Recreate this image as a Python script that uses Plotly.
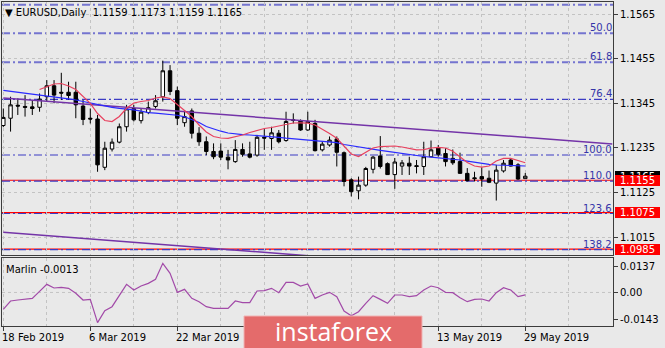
import plotly.graph_objects as go
import pandas as pd

# ---------------- data ----------------
bar_dates = pd.bdate_range("2019-02-18", "2019-05-29")  # 73 daily bars

opens = [1.1290, 1.1308, 1.1340, 1.1337, 1.1336, 1.1335, 1.1361, 1.1388, 1.1372, 1.1372,
         1.1372, 1.1338, 1.1308, 1.1306, 1.1187, 1.1232, 1.1249, 1.1287, 1.1332, 1.1302,
         1.1322, 1.1337, 1.1361, 1.1425, 1.1376, 1.1297, 1.1326, 1.1271, 1.1250, 1.1226,
         1.1227, 1.1212, 1.1201, 1.1231, 1.1220, 1.1217, 1.1261, 1.1258, 1.1271, 1.1253,
         1.1304, 1.1301, 1.1279, 1.1295, 1.1230, 1.1242, 1.1257, 1.1223, 1.1156, 1.1129,
         1.1143, 1.1182, 1.1215, 1.1196, 1.1169, 1.1190, 1.1197, 1.1191, 1.1189, 1.1213,
         1.1235, 1.1221, 1.1209, 1.1201, 1.1172, 1.1161, 1.1164, 1.1160, 1.1148, 1.1178,
         1.1205, 1.1193, 1.1159]
highs = [1.1332, 1.1361, 1.1357, 1.1365, 1.1353, 1.1369, 1.1402, 1.1402, 1.1420, 1.1398,
         1.1398, 1.1353, 1.1332, 1.1316, 1.1250, 1.1258, 1.1295, 1.1341, 1.1341, 1.1332,
         1.1349, 1.1365, 1.1450, 1.1439, 1.1386, 1.1328, 1.1332, 1.1286, 1.1263, 1.1246,
         1.1246, 1.1230, 1.1254, 1.1246, 1.1250, 1.1267, 1.1281, 1.1287, 1.1279, 1.1324,
         1.1320, 1.1305, 1.1324, 1.1304, 1.1250, 1.1263, 1.1263, 1.1226, 1.1160, 1.1164,
         1.1188, 1.1215, 1.1264, 1.1199, 1.1210, 1.1205, 1.1213, 1.1205, 1.1250, 1.1253,
         1.1242, 1.1234, 1.1231, 1.1223, 1.1185, 1.1176, 1.1187, 1.1179, 1.1193, 1.1205,
         1.1209, 1.1197, 1.1173]
lows = [1.1286, 1.1275, 1.1316, 1.1312, 1.1316, 1.1324, 1.1349, 1.1345, 1.1353, 1.1353,
        1.1308, 1.1291, 1.1295, 1.1176, 1.1180, 1.1226, 1.1246, 1.1275, 1.1300, 1.1295,
        1.1318, 1.1332, 1.1349, 1.1365, 1.1291, 1.1287, 1.1258, 1.1240, 1.1217, 1.1207,
        1.1205, 1.1182, 1.1198, 1.1213, 1.1209, 1.1213, 1.1230, 1.1230, 1.1246, 1.1250,
        1.1295, 1.1277, 1.1277, 1.1226, 1.1226, 1.1238, 1.1189, 1.1140, 1.1115, 1.1108,
        1.1139, 1.1172, 1.1184, 1.1168, 1.1134, 1.1168, 1.1168, 1.1172, 1.1168, 1.1212,
        1.1213, 1.1189, 1.1193, 1.1171, 1.1152, 1.1152, 1.1139, 1.1148, 1.1105, 1.1174,
        1.1189, 1.1156, 1.1159]
closes = [1.1310, 1.1341, 1.1338, 1.1335, 1.1332, 1.1355, 1.1388, 1.1365, 1.1370, 1.1364,
          1.1341, 1.1305, 1.1306, 1.1193, 1.1234, 1.1249, 1.1287, 1.1331, 1.1304, 1.1323,
          1.1334, 1.1351, 1.1425, 1.1374, 1.1308, 1.1312, 1.1271, 1.1250, 1.1226, 1.1213,
          1.1212, 1.1205, 1.1231, 1.1219, 1.1212, 1.1261, 1.1259, 1.1272, 1.1250, 1.1300,
          1.1303, 1.1279, 1.1300, 1.1228, 1.1244, 1.1254, 1.1224, 1.1152, 1.1127, 1.1143,
          1.1184, 1.1212, 1.1189, 1.1169, 1.1200, 1.1198, 1.1190, 1.1189, 1.1213, 1.1230,
          1.1219, 1.1201, 1.1198, 1.1172, 1.1154, 1.1159, 1.1158, 1.1150, 1.1180, 1.1197,
          1.1190, 1.1158, 1.1165]

ma_red_first_bar = 5
ma_red = [1.13788, 1.13862, 1.13924, 1.13936, 1.13874, 1.13788, 1.13628, 1.13448, 1.13196, 1.13024,
          1.12999, 1.13122, 1.13325, 1.13455, 1.13492, 1.13517, 1.13578, 1.13608, 1.13566, 1.13418,
          1.13270, 1.13122, 1.12913, 1.12740, 1.12629, 1.12592, 1.12585, 1.12617, 1.12666, 1.12728,
          1.12777, 1.12826, 1.12851, 1.12888, 1.12937, 1.12962, 1.12967, 1.12957, 1.12913, 1.12814,
          1.12703, 1.12585, 1.12382, 1.12197, 1.12136, 1.12247, 1.12346, 1.12382, 1.12387, 1.12395,
          1.12370, 1.12338, 1.12301, 1.12308, 1.12346, 1.12363, 1.12346, 1.12264, 1.12123, 1.11988,
          1.11901, 1.11872, 1.11901, 1.12025, 1.12091, 1.12091, 1.12037, 1.11983]

ma_blue = [1.13768, 1.13746, 1.13724, 1.13699, 1.13675, 1.13652, 1.13633, 1.13613, 1.13591, 1.13559,
           1.13529, 1.13492, 1.13455, 1.13411, 1.13371, 1.13347, 1.13324, 1.13312, 1.13288, 1.13253,
           1.13218, 1.13204, 1.13186, 1.13172, 1.13154, 1.13115, 1.13048, 1.12974, 1.12875, 1.12814,
           1.12760, 1.12715, 1.12690, 1.12676, 1.12666, 1.12656, 1.12646, 1.12629, 1.12609, 1.12587,
           1.12572, 1.12557, 1.12543, 1.12528, 1.12513, 1.12501, 1.12476, 1.12432, 1.12400, 1.12370,
           1.12343, 1.12308, 1.12289, 1.12262, 1.12234, 1.12207, 1.12178, 1.12151, 1.12136, 1.12121,
           1.12106, 1.12087, 1.12067, 1.12050, 1.12020, 1.11988, 1.11956, 1.11941, 1.11926, 1.11917,
           1.11909, 1.11902, 1.11902]

marlin = [-0.0090, -0.00456, -0.00403, -0.00350, -0.00314, 0.00058, 0.00431, 0.00236, 0.00271, 0.00218,
          -0.00048, -0.00403, -0.00368, -0.01609, -0.00971, -0.00758, -0.00137, 0.00431, 0.00129, 0.00342,
          0.00484, 0.00697, 0.01548, 0.01016, 0.00005, 0.00165, -0.00314, -0.00492, -0.00758, -0.00847,
          -0.00847, -0.00847, -0.00456, -0.00545, -0.00545, 0.00076, 0.00094, 0.00218, -0.00013, 0.00537,
          0.00537, 0.00342, 0.00449, -0.00314, -0.00137, 0.00005, -0.00226, -0.00988, -0.01237, -0.01024,
          -0.00580, -0.00172, -0.00368, -0.00580, -0.00137, -0.00137, -0.00226, -0.00172, 0.00129, 0.00342,
          0.00253, 0.00005, -0.00013, -0.00279, -0.00492, -0.00368, -0.00350, -0.00456, -0.00013, 0.00253,
          0.00129, -0.00226, -0.0013]

fib_labels = ["38.2", "50.0", "61.8", "76.4", "100.0", "110.0", "123.6", "138.2"]
fib_levels = [1.15879, 1.15174, 1.14459, 1.13546, 1.12173, 1.11530, 1.10730, 1.09840]
red_levels = [1.1155, 1.1075, 1.0985]
last_price = 1.1165

trend_upper_bars = [0, 84]
trend_upper_prices = [1.13579, 1.12447]
trend_lower_bars = [0, 84]
trend_lower_prices = [1.10267, 1.09113]

price_ticks = [1.1565, 1.1455, 1.1345, 1.1235, 1.1125, 1.1015]
marlin_ticks = [0.0137, 0.0, -0.0143]
marlin_tick_text = ["0.0137", "0.00", "-0.0143"]
date_tick_bars = [0, 12, 24, 36, 48, 60, 72]
# labels of bars 36 and 48 lie under the logo in the reference and are not visible
date_tick_labels = ["18 Feb 2019", "6 Mar 2019", "22 Mar 2019", "",
                    "", "13 May 2019", "29 May 2019"]
header_text = "▼ EURUSD,Daily  1.1159 1.1173 1.1159 1.1165"
marlin_name = "Marlin -0.0013"
logo_text = "instaforex"

# ---------------- style / geometry ----------------
W, H = 665, 348
ML, MR, MT, MB = 2, 52, 2, 22
PW, PH = W - ML - MR, H - MT - MB
def px_x(p):  # pixel -> paper
    return (p - ML) / PW
def px_y(p):
    return (H - MB - p) / PH

FONT = "DejaVu Sans"
BG = "#e9e9e9"
GRID = "#c3c3c3"
FRAME = "#3c3c3c"
x_range = [-0.18, 84.1]
y_range = [1.09707, 1.15946]
m_range = [-0.01786, 0.01833]
fib_colors = ["#7474cf", "#7474cf", "#7474cf", "#3c3cc4", "#3c3cc4", "#3c3cc4", "#3c3cc4", "#3c3cc4"]
fib_widths = [2, 2, 2, 1.2, 1.2, 1.2, 1.2, 1.2]

x = list(range(len(opens)))

fig = go.Figure()

fig.add_trace(go.Scatter(x=trend_upper_bars, y=trend_upper_prices, mode="lines",
                         line=dict(color="#7434a8", width=1.5), hoverinfo="skip",
                         xaxis="x", yaxis="y", showlegend=False))
fig.add_trace(go.Scatter(x=trend_lower_bars, y=trend_lower_prices, mode="lines",
                         line=dict(color="#7434a8", width=1.5), hoverinfo="skip",
                         xaxis="x", yaxis="y", showlegend=False))

fig.add_trace(go.Candlestick(
    x=x, open=opens, high=highs, low=lows, close=closes,
    increasing=dict(fillcolor="white", line=dict(color="black", width=1)),
    decreasing=dict(fillcolor="black", line=dict(color="black", width=1)),
    whiskerwidth=0, hoverinfo="skip", showlegend=False, xaxis="x", yaxis="y"))

fig.add_trace(go.Scatter(x=x, y=ma_blue, mode="lines",
                         line=dict(color="#2a2aff", width=1.2), hoverinfo="skip",
                         xaxis="x", yaxis="y", showlegend=False))
fig.add_trace(go.Scatter(x=list(range(ma_red_first_bar, ma_red_first_bar + len(ma_red))), y=ma_red,
                         mode="lines", line=dict(color="#e8405e", width=1.2), hoverinfo="skip",
                         xaxis="x", yaxis="y", showlegend=False))

fig.add_trace(go.Scatter(x=x, y=marlin, mode="lines",
                         line=dict(color="#a24aa8", width=1.2), hoverinfo="skip",
                         xaxis="x2", yaxis="y2", showlegend=False))

shapes = []
for lv in red_levels:
    shapes.append(dict(type="line", xref="x domain", yref="y", x0=0, x1=1, y0=lv, y1=lv,
                       line=dict(color="#ff0000", width=1.2), layer="below"))
for lv, c, w in zip(fib_levels, fib_colors, fib_widths):
    shapes.append(dict(type="line", xref="x domain", yref="y", x0=0, x1=1, y0=lv, y1=lv,
                       line=dict(color=c, width=w, dash="8px,3px,2px,3px"), layer="below"))
shapes.append(dict(type="line", xref="x2 domain", yref="y2", x0=0, x1=1, y0=0, y1=0,
                   line=dict(color=GRID, width=1, dash="3px,3px"), layer="below"))
# logo plate (runs off the bottom of the picture, as in the reference)
shapes.append(dict(type="rect", xref="paper", yref="paper",
                   x0=px_x(244), x1=px_x(422), y0=px_y(352), y1=px_y(316),
                   fillcolor="#e46b6b", line=dict(color="#f0b4b4", width=1), layer="above"))

ann = []
ann.append(dict(text=header_text, xref="paper", yref="paper", x=px_x(3), y=px_y(12),
                xanchor="left", yanchor="middle", showarrow=False,
                font=dict(family=FONT, size=10, color="black")))
ann.append(dict(text=marlin_name, xref="paper", yref="paper", x=px_x(4), y=px_y(269),
                xanchor="left", yanchor="middle", showarrow=False,
                font=dict(family=FONT, size=10, color="black")))
for lbl, lv in zip(fib_labels, fib_levels):
    if lv + 14 / 4055 > y_range[1]:
        continue
    ann.append(dict(text=lbl, xref="paper", yref="y", x=1, y=lv, xanchor="right", yanchor="bottom",
                    xshift=1, yshift=-2, showarrow=False,
                    font=dict(family=FONT, size=10, color="#3434a8")))
# current price label, mostly hidden behind the red 1.1155 label
ann.append(dict(text=f"{last_price:.4f}", xref="paper", yref="y", x=px_x(615), y=last_price,
                xanchor="left", yanchor="middle", showarrow=False, bgcolor="black",
                borderpad=0, borderwidth=0, width=45, height=11,
                font=dict(family=FONT, size=10, color="white")))
for lv in red_levels:
    ann.append(dict(text=f"{lv:.4f}", xref="paper", yref="y", x=px_x(615), y=lv,
                    xanchor="left", yanchor="middle", showarrow=False, bgcolor="#ff0000",
                    borderpad=0, borderwidth=0, width=45, height=11,
                    font=dict(family=FONT, size=10, color="white")))
for b, lbl in zip(date_tick_bars, date_tick_labels):
    if not lbl:
        continue
    ann.append(dict(text=lbl, xref="x2", yref="paper", x=b, y=px_y(337), xanchor="left",
                    yanchor="middle", xshift=-3, showarrow=False,
                    font=dict(family=FONT, size=10, color="black")))
ann.append(dict(text=logo_text, xref="paper", yref="paper", x=px_x(333), y=px_y(331),
                xanchor="center", yanchor="middle", showarrow=False,
                font=dict(family="Open Sans", size=25, color="white")))

main_dom = [px_y(255), 1]
ind_dom = [0, px_y(258)]

axis_common = dict(showline=True, mirror=True, linecolor=FRAME, linewidth=1, zeroline=False)
fig.update_layout(
    width=W, height=H, margin=dict(l=ML, r=MR, t=MT, b=MB),
    paper_bgcolor=BG, plot_bgcolor=BG,
    font=dict(family=FONT, size=10, color="black"),
    showlegend=False, hovermode=False,
    xaxis=dict(domain=[0, 1], anchor="y", range=x_range, rangeslider=dict(visible=False),
               tick0=0, dtick=6, showgrid=True, gridcolor=GRID, griddash="3px,3px", gridwidth=1,
               ticks="", showticklabels=False, **axis_common),
    yaxis=dict(domain=main_dom, anchor="x", side="right", range=y_range,
               tickmode="array", tickvals=price_ticks, ticktext=[f"{v:.4f}" for v in price_ticks],
               showgrid=True, gridcolor=GRID, griddash="3px,3px", gridwidth=1,
               ticks="outside", ticklen=4, tickcolor=FRAME, **axis_common),
    xaxis2=dict(domain=[0, 1], anchor="y2", range=x_range, matches="x",
                tickmode="array", tickvals=date_tick_bars, ticks="outside", ticklen=4, tickcolor=FRAME,
                showticklabels=False, showgrid=True, gridcolor=GRID, griddash="3px,3px",
                minor=dict(tick0=0, dtick=6, showgrid=True, gridcolor=GRID, griddash="3px,3px", ticks=""),
                **axis_common),
    yaxis2=dict(domain=ind_dom, anchor="x2", side="right", range=m_range,
                tickmode="array", tickvals=marlin_ticks, ticktext=marlin_tick_text,
                showgrid=False, ticks="outside", ticklen=4, tickcolor=FRAME, **axis_common),
    shapes=shapes, annotations=ann,
    boxgap=0.32,
)

fig.write_html("out.html")
